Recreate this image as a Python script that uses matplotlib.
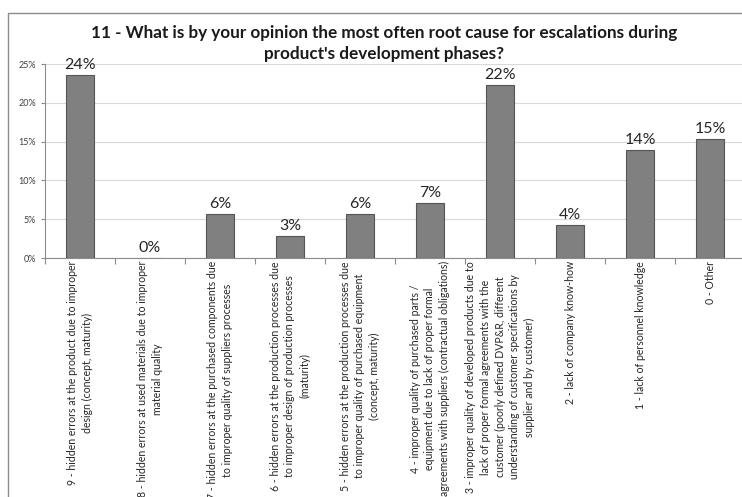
import matplotlib
matplotlib.use("Agg")
import matplotlib.pyplot as plt
from matplotlib.ticker import FuncFormatter
import numpy as np

# data
categories = [
    "9 - hidden errors at the product due to improper\ndesign (concept, maturity)",
    "8 - hidden errors at used materials due to improper\nmaterial quality",
    "7 - hidden errors at the purchased components due\nto improper quality of suppliers processes",
    "6 - hidden errors at the production processes due\nto improper design of production processes\n(maturity)",
    "5 - hidden errors at the production processes due\nto improper quality of purchased equipment\n(concept, maturity)",
    "4 - improper quality of purchased parts /\nequipment due to lack of proper formal\nagreements with suppliers (contractual obligations)",
    "3 - improper quality of developed products due to\nlack of proper formal agreements with the\ncustomer (poorly defined DVP&R, different\nunderstanding of customer specifications by\nsupplier and by customer)",
    "2 - lack of company know-how",
    "1 - lack of personnel knowledge",
    "0 - Other",
]
values = [0.236, 0.0, 0.0567, 0.0284, 0.0567, 0.0709, 0.223, 0.0426, 0.139, 0.153]
yticks = [0, 0.05, 0.10, 0.15, 0.20, 0.25]

title = ("11 - What is by your opinion the most often root cause for escalations during\n"
         "product's development phases?")

plt.rcParams['font.family'] = ['Lato', 'DejaVu Sans']

fig = plt.figure(figsize=(7.42, 4.97), dpi=100)
fig.patches.append(plt.Rectangle((8 / 742, -0.1), 1.0, 1.1 - 13 / 497,
                                 transform=fig.transFigure, fill=False,
                                 edgecolor='#8c8c8c', linewidth=1.0))
ax = fig.add_axes([45 / 742, 1 - 258 / 497, 700 / 742, 194 / 497])

x = np.arange(len(values))
ax.bar(x, values, width=0.39, color='#808080', edgecolor='#555555', linewidth=0.8, zorder=3)

for xi, v in zip(x, values):
    ax.text(xi, v + 0.004, f"{v * 100:.0f}%", ha='center', va='bottom',
            fontsize=11.5, color='#262626')

ax.set_xlim(-0.5, len(values) - 0.5)
ax.set_ylim(0, 0.25)
ax.set_yticks(yticks)
ax.yaxis.set_major_formatter(FuncFormatter(lambda v, p: f"{v * 100:.0f}%"))
ax.tick_params(axis='y', labelsize=6.5, labelcolor='#404040', length=3,
               color='#8c8c8c', width=0.8)
ax.yaxis.grid(True, color='#d9d9d9', linewidth=0.8, zorder=0)

ax.set_xticks(x)
ax.set_xticklabels([])
ax.set_xticks(np.arange(len(values) + 1) - 0.5, minor=True)
ax.tick_params(axis='x', which='major', length=0)
ax.tick_params(axis='x', which='minor', length=4, color='#8c8c8c', width=0.8)

for xi, lab in zip(x, categories):
    ax.text(xi, -0.004, lab, rotation=90, ha='center', va='top',
            multialignment='center', fontsize=7.6, color='#262626',
            linespacing=1.42, transform=ax.transData, clip_on=False)

for s in ['top', 'right']:
    ax.spines[s].set_visible(False)
ax.spines['left'].set_color('#8c8c8c')
ax.spines['bottom'].set_color('#8c8c8c')

fig.text(384 / 742, 1 - 25 / 497, title, ha='center', va='top',
         fontsize=12.3, fontweight='bold', color='#1a1a1a', linespacing=1.35)

fig.savefig("out.png", dpi=100)
